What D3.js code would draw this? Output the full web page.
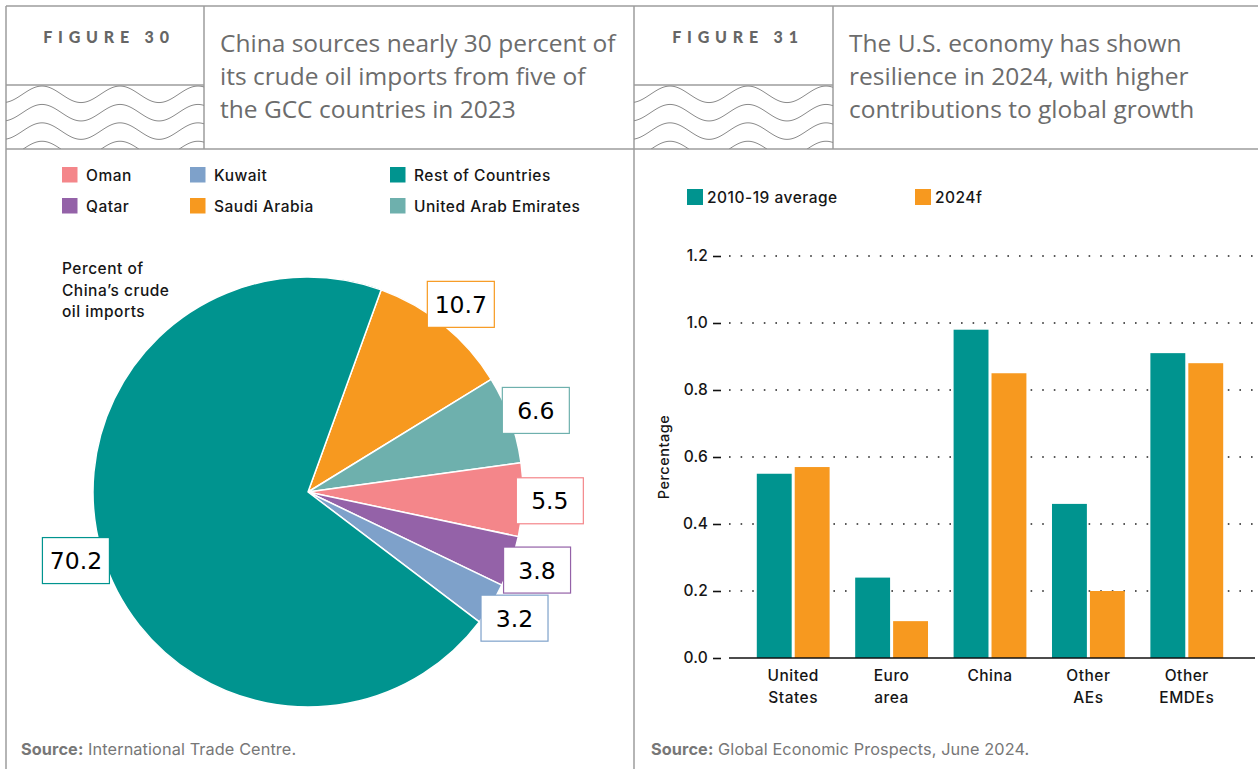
<!DOCTYPE html>
<html>
<head>
<meta charset="utf-8">
<script src="https://cdn.jsdelivr.net/npm/d3@7"></script>
<style>
  body { margin: 0; background: #fff; }
  svg { display: block; }
</style>
</head>
<body>
<svg id="page" width="1258" height="769"></svg>
<script>
// ---- Figure 30: China's crude oil import sources, 2023 (percent) ----
const importSources = ["Saudi Arabia", "United Arab Emirates", "Oman", "Qatar", "Kuwait", "Rest of Countries"];
const importShares  = [10.7, 6.6, 5.5, 3.8, 3.2, 70.2];
const pieLegendRows = [["Oman", "Kuwait", "Rest of Countries"], ["Qatar", "Saudi Arabia", "United Arab Emirates"]];

// ---- Figure 31: contributions to global growth (percentage points) ----
const regions     = ["United States", "Euro area", "China", "Other AEs", "Other EMDEs"];
const seriesNames = ["2010-19 average", "2024f"];
const avg2010to19 = [0.55, 0.24, 0.98, 0.46, 0.91];
const forecast2024 = [0.57, 0.11, 0.85, 0.20, 0.88];
const yTickValues = [0, 0.2, 0.4, 0.6, 0.8, 1.0, 1.2];

const sourceColor = {
  "Oman": "#f4868a",
  "Kuwait": "#7ea1ca",
  "Rest of Countries": "#00948f",
  "Qatar": "#9462a8",
  "Saudi Arabia": "#f7991f",
  "United Arab Emirates": "#6eb0ad"
};
const seriesColor = ["#00948f", "#f7991f"];

const svg = d3.select("#page");
const RULE = "#9d9d9d";
const TEXT = "#161616";
const UI_FONT = "Inter, 'Open Sans', sans-serif";
const UI_SIZE = 15.5;
const UI_SPACING = 0.5;

// ---------- frame and header ----------
const frame = svg.append("g").attr("stroke", RULE).attr("stroke-width", 1.5).attr("fill", "none");
[[6, 6, 1258, 6], [6, 149, 1258, 149], [6, 6, 6, 769], [204, 6, 204, 149],
 [634, 6, 634, 769], [833, 6, 833, 149], [6, 85, 204, 85], [634, 85, 833, 85]]
  .forEach(([x1, y1, x2, y2]) => frame.append("line").attr("x1", x1).attr("y1", y1).attr("x2", x2).attr("y2", y2));

// wavy ornament under each figure number
function waves(x0, x1, top, bottom, id) {
  svg.append("clipPath").attr("id", id).append("rect")
    .attr("x", x0).attr("y", top).attr("width", x1 - x0).attr("height", bottom - top);
  const g = svg.append("g").attr("clip-path", `url(#${id})`)
    .attr("fill", "none").attr("stroke", "#8a8a8a").attr("stroke-width", 1);
  const period = 78, amp = 8.3, firstCrest = x0 + 36;
  const line = d3.line().curve(d3.curveBasis);
  [94.3, 112.7, 131.1, 149.5].forEach(mid => {
    const pts = d3.range(x0 - 2, x1 + 3, 2).map(x => [x, mid - amp * Math.cos(2 * Math.PI * (x - firstCrest) / period)]);
    g.append("path").attr("d", line(pts));
  });
}
waves(6, 204, 85, 149, "w30");
waves(634, 833, 85, 149, "w31");

function figureTag(cx, label) {
  svg.append("text").attr("x", cx + 3).attr("y", 43).attr("text-anchor", "middle")
    .attr("font-family", "Lato, 'DejaVu Sans', sans-serif").attr("font-weight", 900)
    .attr("font-size", 16).attr("letter-spacing", 5.8).attr("fill", "#666").text(label);
}
figureTag(106, "FIGURE 30");
figureTag(735, "FIGURE 31");

function headline(x, lines) {
  const t = svg.append("text").attr("font-family", "'Open Sans', sans-serif")
    .attr("font-size", 24.5).attr("fill", "#6c6c6c");
  lines.forEach((s, i) => t.append("tspan").attr("x", x).attr("y", 52 + i * 33).text(s));
}
headline(220, ["China sources nearly 30 percent of", "its crude oil imports from five of", "the GCC countries in 2023"]);
headline(849, ["The U.S. economy has shown", "resilience in 2024, with higher", "contributions to global growth"]);

function sourceNote(x, rest) {
  const t = svg.append("text").attr("x", x).attr("y", 755)
    .attr("font-family", UI_FONT).attr("font-size", 16.3).attr("letter-spacing", 0.1).attr("fill", "#777");
  t.append("tspan").attr("font-weight", 700).text("Source:");
  t.append("tspan").text(" " + rest);
}
sourceNote(21, "International Trade Centre.");
sourceNote(651, "Global Economic Prospects, June 2024.");

function uiText(sel) {
  return sel.attr("font-family", UI_FONT).attr("font-size", UI_SIZE).attr("font-weight", 500)
    .attr("letter-spacing", UI_SPACING).attr("fill", TEXT);
}

// ---------- Figure 30: pie ----------
const legendX = [62, 190, 390];
pieLegendRows.forEach((row, r) => {
  row.forEach((name, c) => {
    const g = svg.append("g").attr("transform", `translate(${legendX[c]},${167 + r * 31})`);
    g.append("rect").attr("width", 15.5).attr("height", 15.5).attr("fill", sourceColor[name]);
    uiText(g.append("text").attr("x", 24).attr("y", 13.5)).text(name);
  });
});

const pieNote = uiText(svg.append("text"));
["Percent of", "China\u2019s crude", "oil imports"].forEach((s, i) =>
  pieNote.append("tspan").attr("x", 62).attr("y", 274 + i * 21.5).text(s));

const cx = 308, cy = 492, R = 215;
const startDeg = 19.9;
const pie = d3.pie().sort(null).value(d => d.share)
  .startAngle(startDeg * Math.PI / 180).endAngle((startDeg + 360) * Math.PI / 180);
const slices = pie(importSources.map((name, i) => ({ name, share: importShares[i] })));
const arc = d3.arc().innerRadius(0).outerRadius(R);
const labelArc = d3.arc().innerRadius(242).outerRadius(242);

const pieG = svg.append("g").attr("transform", `translate(${cx},${cy})`);
pieG.selectAll("path.slice").data(slices).join("path")
  .attr("class", "slice").attr("d", arc)
  .attr("fill", d => sourceColor[d.data.name])
  .attr("stroke", "#fff").attr("stroke-width", 1.5).attr("stroke-linejoin", "round");

const boxW = 67, boxH = 46;
const labels = pieG.selectAll("g.value").data(slices).join("g")
  .attr("class", "value")
  .attr("transform", d => `translate(${labelArc.centroid(d)})`);
labels.append("rect").attr("x", -boxW / 2).attr("y", -boxH / 2).attr("width", boxW).attr("height", boxH)
  .attr("fill", "#fff").attr("stroke", d => sourceColor[d.data.name]).attr("stroke-width", 1.2);
labels.append("text").attr("text-anchor", "middle").attr("dy", "0.36em")
  .attr("font-family", "'DejaVu Sans', sans-serif").attr("font-size", 23.5).attr("fill", "#000")
  .text(d => d3.format(".1f")(d.data.share));

// ---------- Figure 31: grouped bars ----------
const y = d3.scaleLinear().domain([0, 1.2]).range([658, 256]);
const x0 = d3.scaleBand().domain(regions).range([744, 1236]).paddingInner(0.26).paddingOuter(0.13);
const x1 = d3.scaleBand().domain(seriesNames).range([0, x0.bandwidth()]).paddingInner(0.08);

// bar legend
seriesNames.forEach((name, i) => {
  const g = svg.append("g").attr("transform", `translate(${[687, 915][i]},189)`);
  g.append("rect").attr("width", 16).attr("height", 16).attr("fill", seriesColor[i]);
  uiText(g.append("text").attr("x", 20).attr("y", 13.5)).text(name);
});

// dotted gridlines
svg.append("g").selectAll("line").data(yTickValues.filter(v => v > 0)).join("line")
  .attr("x1", 729).attr("x2", 1258).attr("y1", d => y(d)).attr("y2", d => y(d))
  .attr("stroke", "#222").attr("stroke-width", 1.6).attr("stroke-dasharray", "1.6 10");

// bars
const rows = regions.map((r, i) => ({ region: r, values: [avg2010to19[i], forecast2024[i]] }));
const groups = svg.append("g").selectAll("g").data(rows).join("g")
  .attr("transform", d => `translate(${x0(d.region)},0)`);
groups.selectAll("rect").data(d => d.values.map((v, i) => ({ series: seriesNames[i], v, i }))).join("rect")
  .attr("x", d => x1(d.series)).attr("width", x1.bandwidth())
  .attr("y", d => y(d.v)).attr("height", d => y(0) - y(d.v))
  .attr("fill", d => seriesColor[d.i]);

// baseline
svg.append("line").attr("x1", 729).attr("x2", 1255).attr("y1", y(0)).attr("y2", y(0))
  .attr("stroke", "#111").attr("stroke-width", 1.5);

// y axis ticks and labels
const yAxis = svg.append("g").attr("transform", "translate(721,0)")
  .call(d3.axisLeft(y).tickValues(yTickValues).tickFormat(d3.format(".1f")).tickSize(8).tickPadding(5));
yAxis.select(".domain").remove();
yAxis.selectAll(".tick line").attr("stroke", "#111").attr("stroke-width", 1.6);
uiText(yAxis.selectAll(".tick text")).attr("letter-spacing", 0.2);

uiText(svg.append("text").attr("transform", "translate(669,457) rotate(-90)").attr("text-anchor", "middle"))
  .attr("font-size", 14.5).text("Percentage");

// category labels
const xl = uiText(svg.append("g").selectAll("text").data(regions).join("text")
  .attr("text-anchor", "middle"));
xl.each(function (d) {
  const cxr = x0(d) + x0.bandwidth() / 2;
  d.split(" ").forEach((w, i) =>
    d3.select(this).append("tspan").attr("x", cxr).attr("y", 681 + i * 22).text(w));
});
</script>
</body>
</html>
